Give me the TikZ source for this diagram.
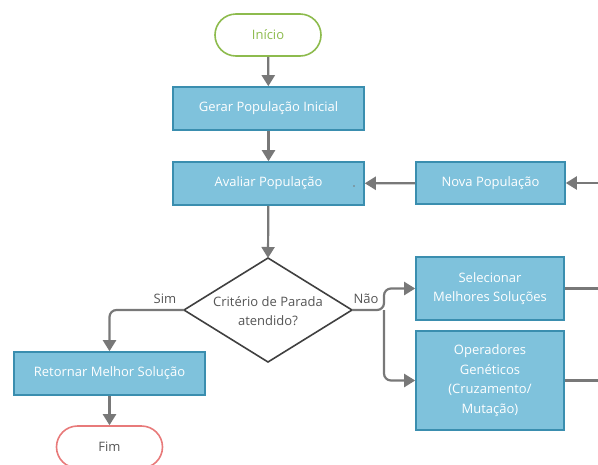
\documentclass[tikz,border=0pt]{standalone}
\usepackage{fontspec}
\setmainfont{Open Sans}
\usetikzlibrary{arrows.meta}
\definecolor{boxfill}{HTML}{7FC2DC}
\definecolor{boxline}{HTML}{3A8EAF}
\definecolor{arr}{HTML}{787878}
\definecolor{startc}{HTML}{8DBB4D}
\definecolor{endc}{HTML}{E87A7A}
\definecolor{txt}{HTML}{555555}
\begin{document}
\begin{tikzpicture}[x=1pt,y=-1pt,
  every node/.style={font=\fontsize{13}{19.5}\selectfont},
  procbox/.style={draw=boxline,fill=boxfill,line width=1.6pt,text=white,align=center,inner sep=0pt},
  pill/.style={draw,line width=1.6pt,rounded corners=21pt,minimum width=106pt,minimum height=42pt,inner sep=0pt,fill=white},
  conn/.style={draw=arr,line width=2.2pt,-{Triangle[width=13pt,length=11pt]}},
  plain/.style={draw=arr,line width=2.2pt},
  lbl/.style={text=txt,inner sep=1pt}]
\useasboundingbox (0,0) rectangle (598,464);
\node[pill,draw=startc,text=startc] (ini) at (268,35) {Início};
\node[procbox,minimum width=191pt,minimum height=43pt] (ger) at (268.5,108.5) {Gerar População Inicial};
\node[procbox,minimum width=191pt,minimum height=43pt] (ava) at (268.5,183.5) {Avaliar População};
\node[procbox,minimum width=149pt,minimum height=42pt] (nova) at (490.5,183) {Nova População};
\node[procbox,minimum width=148pt,minimum height=63pt] (sel) at (490,288.5) {Selecionar\\Melhores Soluções};
\node[procbox,minimum width=148pt,minimum height=99pt] (ope) at (490,380.5) {Operadores\\Genéticos\\(Cruzamento/\\Mutação)};
\node[procbox,minimum width=191pt,minimum height=43pt] (ret) at (109.5,373.5) {Retornar Melhor Solução};
\node[pill,draw=endc,text=txt] (fim) at (109.5,447) {Fim};
% diamond
\coordinate (dT) at (268,258);
\coordinate (dR) at (352,310);
\coordinate (dB) at (268,362);
\coordinate (dL) at (184,310);
\draw[draw=black!75,line width=1.6pt,fill=white,line join=miter] (dT) -- (dR) -- (dB) -- (dL) -- cycle;
\node[text=txt,align=center] (dec) at (268,311) {Critério de Parada\\atendido?};
\fill[arr] (354,186) circle (0.8pt);
% free ends
\coordinate (inR) at (598,183);
\coordinate (selR) at (598,288.5);
\coordinate (opeR) at (598,380.5);
\coordinate (naoK) at (384,310);
% connectors
\draw[conn] (ini) -- (ger);
\draw[conn] (ger) -- (ava);
\draw[conn] (ava) -- (dT);
\draw[conn] (inR) -- (nova);
\draw[conn] (nova) -- (ava);
\draw[conn,rounded corners=7pt] (dL) -| (ret.north);
\draw[conn] (ret) -- (fim);
\draw[conn,rounded corners=7pt] (dR) -- (naoK) |- (sel.west);
\draw[conn,rounded corners=7pt] (naoK) |- (ope.west);
\draw[plain] (sel) -- (selR);
\draw[plain] (ope) -- (opeR);
\node[lbl] (sim) at (165,299) {Sim};
\node[lbl] (nao) at (366,299) {Não};
\end{tikzpicture}
\end{document}
